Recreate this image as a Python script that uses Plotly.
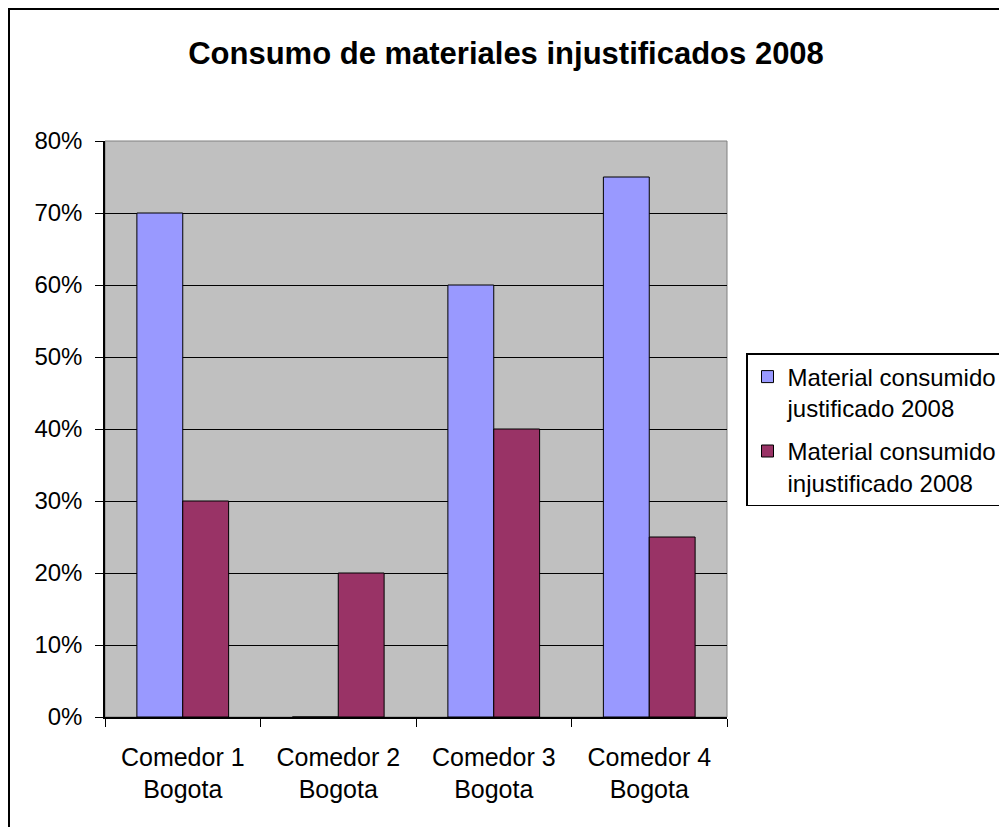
import plotly.graph_objects as go

categories = ["Comedor 1<br>Bogota", "Comedor 2<br>Bogota", "Comedor 3<br>Bogota", "Comedor 4<br>Bogota"]
justificado = [0.70, 0.0, 0.60, 0.75]
injustificado = [0.30, 0.20, 0.40, 0.25]
series_names = ["Material consumido<br>justificado 2008", "Material consumido<br>injustificado 2008"]
y_ticks = [0, 0.1, 0.2, 0.3, 0.4, 0.5, 0.6, 0.7, 0.8]

OFF = 8  # page body margin
W, H = 1007 - OFF, 827 - OFF
# plot area in screenshot pixels
SL, SR, ST, SB = 105, 727, 141, 717
L, R, T, B = SL - OFF, SR - OFF, ST - OFF, SB - OFF
pw, ph = R - L, B - T

def px(x):  # screenshot x -> paper
    return (x - OFF - L) / pw

def py(y):  # screenshot y -> paper
    return (B - (y - OFF)) / ph

fig = go.Figure()
fig.add_trace(go.Bar(x=categories, y=justificado, name=series_names[0], legendgroup="g1",
                     marker=dict(color="#9999FF", line=dict(color="black", width=1))))
fig.add_trace(go.Bar(x=categories, y=injustificado, name=series_names[1], legendgroup="g2",
                     marker=dict(color="#993366", line=dict(color="black", width=1))))

fig.update_layout(
    width=W, height=H,
    margin=dict(l=L, r=W - R, t=T, b=H - B, autoexpand=False),
    paper_bgcolor="white",
    plot_bgcolor="#C0C0C0",
    barmode="group",
    bargap=0.41,
    bargroupgap=0,
    font=dict(family="Liberation Sans, Arial, sans-serif", color="black", size=24),
    title=dict(text="<b>Consumo de materiales injustificados 2008</b>",
               font=dict(size=31, family="Liberation Sans, Arial, sans-serif", color="black"),
               x=(506 - OFF) / W, xref="container", y=1 - (53 - OFF) / H, yref="container",
               xanchor="center", yanchor="middle"),
    legend=dict(x=px(746), y=py(353), xanchor="left", yanchor="top",
                bgcolor="white", bordercolor="black", borderwidth=1.5,
                font=dict(size=24), valign="top", tracegroupgap=9,
                traceorder="grouped"),
    showlegend=True,
)

fig.update_xaxes(
    showline=True, linecolor="black", linewidth=1.5,
    ticks="outside", ticklen=8, tickcolor="black", tickwidth=1,
    tickson="boundaries", showgrid=False,
    tickfont=dict(size=25), ticklabelstandoff=17,
)
fig.update_yaxes(
    range=[0, 0.8], tickvals=y_ticks, tickformat=".0%",
    showline=True, linecolor="black", linewidth=1.5,
    ticks="outside", ticklen=8, tickcolor="black", tickwidth=1,
    showgrid=True, gridcolor="black", gridwidth=1,
    zeroline=False, tickfont=dict(size=24), ticklabelstandoff=8,
)

# plot area border (gray, Excel style)
fig.add_shape(type="rect", xref="paper", yref="paper", x0=0, x1=1, y0=0, y1=1,
              line=dict(color="#808080", width=1), layer="below")
# outer chart frame
fig.add_shape(type="rect", xref="paper", yref="paper",
              x0=px(9), x1=px(1020), y0=py(840), y1=py(9),
              line=dict(color="black", width=2))

fig.write_html("out.html")
